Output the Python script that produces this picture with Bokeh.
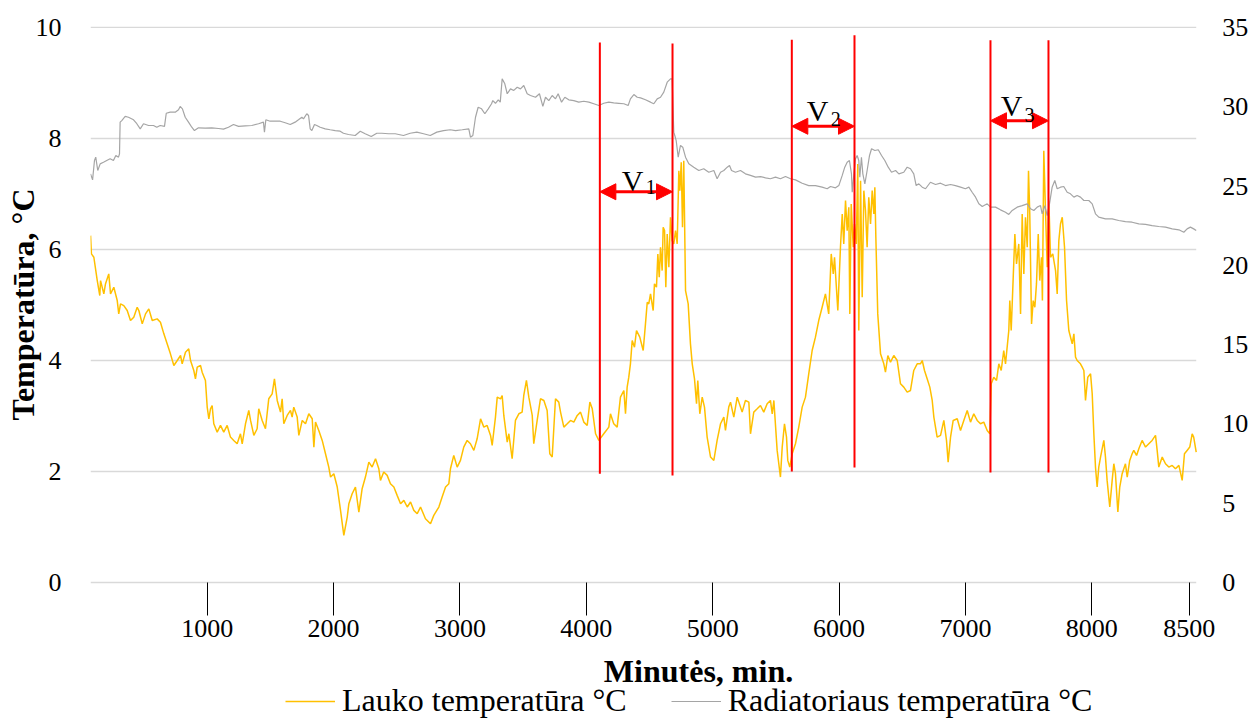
from bokeh.embed import file_html
from bokeh.models import (Arrow, FixedTicker, Label, Legend, LegendItem,
                          LinearAxis, NormalHead, Range1d, Title)
from bokeh.plotting import figure
from bokeh.resources import INLINE

# ---------------------------------------------------------------- data
# outdoor temperature (left axis, °C) against time in minutes
lauko_min = [
    77, 84, 103, 130, 150, 156, 182, 195, 221, 235,
    261, 288, 300, 314, 340, 367, 393, 419, 446, 459,
    486, 512, 538, 565, 604, 630, 657, 683, 709, 736,
    763, 789, 802, 828, 854, 868, 894, 907, 921, 947,
    960, 986, 1000, 1013, 1026, 1039, 1052, 1079, 1105, 1131,
    1158, 1184, 1210, 1237, 1263, 1277, 1303, 1329, 1343, 1369,
    1395, 1408, 1435, 1461, 1487, 1514, 1532, 1554, 1580, 1593,
    1606, 1633, 1659, 1672, 1685, 1712, 1725, 1752, 1778, 1804,
    1831, 1844, 1857, 1883, 1910, 1936, 1962, 1976, 2002, 2029,
    2055, 2081, 2108, 2121, 2147, 2173, 2200, 2226, 2252, 2279,
    2305, 2332, 2358, 2371, 2397, 2424, 2450, 2477, 2503, 2530,
    2556, 2583, 2609, 2635, 2662, 2688, 2727, 2767, 2793, 2833,
    2859, 2886, 2912, 2925, 2951, 2978, 3004, 3030, 3057, 3083,
    3110, 3136, 3163, 3189, 3215, 3242, 3255, 3281, 3295, 3321,
    3334, 3347, 3374, 3387, 3413, 3439, 3466, 3492, 3505, 3526,
    3545, 3572, 3584, 3611, 3637, 3664, 3690, 3711, 3730, 3756,
    3782, 3796, 3822, 3849, 3875, 3901, 3928, 3954, 3980, 4007,
    4028, 4047, 4073, 4099, 4138, 4178, 4191, 4217, 4244, 4270,
    4297, 4310, 4323, 4336, 4349, 4363, 4381, 4397, 4423, 4450,
    4468, 4482, 4494, 4508, 4529, 4539, 4555, 4566, 4577, 4587,
    4600, 4608, 4619, 4629, 4640, 4653, 4666, 4679, 4692, 4706,
    4719, 4732, 4740, 4751, 4761, 4771, 4785, 4806, 4824, 4838,
    4856, 4872, 4882, 4898, 4917, 4935, 4956, 4983, 5009, 5035,
    5062, 5088, 5101, 5127, 5141, 5167, 5194, 5220, 5233, 5259,
    5286, 5299, 5325, 5352, 5378, 5404, 5431, 5457, 5471, 5484,
    5510, 5523, 5536, 5550, 5568, 5584, 5594, 5610, 5629, 5655,
    5681, 5708, 5734, 5760, 5787, 5813, 5839, 5866, 5892, 5918,
    5938, 5954, 5964, 5990, 6011, 6025, 6037, 6051, 6064, 6077,
    6085, 6096, 6112, 6122, 6136, 6148, 6156, 6170, 6183, 6196,
    6209, 6222, 6235, 6249, 6262, 6275, 6283, 6291, 6306, 6328,
    6354, 6367, 6386, 6407, 6433, 6460, 6486, 6512, 6539, 6565,
    6591, 6618, 6644, 6658, 6676, 6697, 6718, 6737, 6750, 6776,
    6803, 6829, 6850, 6863, 6882, 6903, 6935, 6961, 6987, 7014,
    7040, 7066, 7093, 7119, 7145, 7172, 7193, 7204, 7224, 7246,
    7264, 7283, 7303, 7317, 7343, 7351, 7362, 7378, 7391, 7404,
    7422, 7436, 7449, 7462, 7475, 7489, 7499, 7509, 7523, 7536,
    7549, 7562, 7576, 7588, 7602, 7609, 7620, 7634, 7647, 7660,
    7673, 7691, 7713, 7726, 7739, 7752, 7766, 7784, 7800, 7818,
    7845, 7858, 7871, 7884, 7910, 7924, 7937, 7950, 7968, 7990,
    8003, 8016, 8029, 8042, 8055, 8069, 8095, 8108, 8121, 8142,
    8161, 8174, 8187, 8206, 8221, 8240, 8266, 8280, 8300, 8319,
    8332, 8354, 8372, 8398, 8425, 8451, 8477, 8504, 8517, 8530,
    8557, 8583, 8609, 8636, 8662, 8689, 8715, 8733, 8754, 8775,
    8794, 8806, 8826,
]
lauko_temp = [
    6.25, 5.92, 5.86, 5.44, 5.17, 5.44, 5.20, 5.38, 5.56, 5.20,
    5.32, 5.08, 4.84, 5.02, 4.99, 4.90, 4.72, 4.78, 4.96, 4.90,
    4.66, 4.84, 4.93, 4.72, 4.75, 4.69, 4.48, 4.30, 4.12, 3.91,
    4.00, 4.09, 3.94, 4.15, 4.21, 4.00, 3.82, 3.67, 3.88, 3.91,
    3.79, 3.64, 3.16, 2.95, 3.13, 3.19, 2.86, 2.71, 2.83, 2.71,
    2.83, 2.62, 2.56, 2.50, 2.68, 2.50, 2.86, 3.10, 2.92, 2.65,
    2.77, 3.13, 2.92, 2.77, 3.31, 3.40, 3.67, 3.28, 3.07, 3.31,
    2.86, 3.01, 3.10, 2.98, 3.16, 2.98, 2.65, 2.92, 2.86, 3.04,
    2.95, 2.44, 2.89, 2.74, 2.56, 2.32, 2.08, 1.90, 1.96, 1.72,
    1.30, 0.85, 1.18, 1.42, 1.60, 1.72, 1.27, 1.69, 1.90, 2.17,
    2.08, 2.23, 2.05, 1.84, 1.99, 1.93, 1.78, 1.72, 1.57, 1.42,
    1.48, 1.36, 1.45, 1.30, 1.24, 1.36, 1.15, 1.06, 1.21, 1.36,
    1.54, 1.72, 1.78, 2.05, 2.29, 2.08, 2.20, 2.44, 2.56, 2.50,
    2.38, 2.59, 2.95, 2.80, 2.83, 2.65, 2.47, 2.98, 3.34, 3.31,
    3.37, 3.01, 2.53, 2.68, 2.23, 2.92, 3.04, 3.07, 3.37, 3.64,
    3.34, 3.01, 2.50, 2.92, 3.31, 3.28, 3.10, 2.32, 2.26, 3.31,
    3.25, 3.07, 2.80, 2.86, 2.92, 2.89, 3.01, 3.07, 2.89, 2.83,
    3.25, 3.13, 2.68, 2.56, 2.68, 2.80, 3.04, 2.86, 2.80, 3.34,
    3.46, 3.04, 3.52, 3.70, 3.94, 4.36, 4.24, 4.54, 4.42, 4.18,
    4.66, 5.05, 5.02, 5.20, 4.90, 5.38, 5.32, 5.92, 5.50, 6.04,
    5.62, 6.40, 6.34, 5.32, 6.28, 5.68, 6.58, 6.16, 6.10, 6.34,
    6.10, 7.42, 7.06, 7.57, 6.40, 7.60, 5.26, 5.02, 4.30, 3.94,
    3.67, 3.22, 3.64, 3.04, 3.34, 3.16, 2.62, 2.26, 2.20, 2.56,
    2.86, 2.98, 2.74, 3.16, 3.25, 2.98, 3.34, 3.16, 3.07, 3.28,
    3.25, 2.68, 3.07, 3.13, 3.19, 3.07, 3.22, 3.28, 3.04, 3.28,
    2.38, 2.14, 1.90, 2.44, 2.86, 2.62, 2.20, 2.08, 2.32, 2.50,
    2.80, 3.16, 3.34, 3.76, 4.18, 4.42, 4.72, 4.96, 5.20, 4.84,
    5.92, 5.56, 5.86, 4.90, 6.04, 6.64, 6.10, 6.88, 6.34, 6.76,
    4.84, 6.82, 6.04, 6.46, 6.10, 7.54, 4.54, 7.24, 5.14, 7.06,
    6.70, 6.04, 6.94, 6.46, 7.06, 6.64, 7.12, 6.22, 4.84, 4.12,
    3.94, 3.79, 4.09, 3.97, 4.09, 4.00, 3.58, 3.52, 3.43, 3.46,
    3.82, 3.94, 3.94, 4.00, 3.82, 3.67, 3.52, 3.28, 2.98, 2.62,
    2.65, 2.92, 2.56, 2.17, 2.62, 2.92, 2.95, 2.74, 2.92, 3.10,
    2.89, 3.04, 2.92, 2.86, 2.89, 2.74, 2.68, 3.58, 3.70, 3.64,
    3.94, 3.82, 4.18, 3.94, 4.54, 5.08, 4.54, 5.50, 6.28, 5.74,
    6.10, 4.84, 6.64, 5.56, 6.58, 6.04, 7.42, 6.64, 4.66, 5.08,
    4.96, 5.38, 6.28, 5.44, 5.86, 5.08, 7.78, 6.64, 5.68, 6.88,
    5.86, 5.92, 5.62, 5.20, 6.16, 6.46, 6.58, 6.04, 5.08, 4.54,
    4.30, 4.48, 4.06, 4.00, 3.94, 3.88, 3.82, 3.28, 3.70, 3.76,
    3.40, 2.68, 2.08, 1.72, 2.08, 2.26, 2.56, 2.26, 1.84, 1.36,
    1.84, 2.14, 1.96, 1.27, 1.72, 1.96, 2.14, 1.90, 2.20, 2.32,
    2.38, 2.29, 2.41, 2.56, 2.44, 2.50, 2.56, 2.65, 2.38, 2.08,
    2.26, 2.14, 2.08, 2.11, 2.05, 2.11, 1.84, 2.32, 2.38, 2.44,
    2.68, 2.62, 2.35,
]

# radiator temperature (right axis, °C)
rad_min = [
    77, 93, 108, 118, 134, 153, 179, 205, 232, 258,
    277, 298, 306, 311, 324, 351, 377, 417, 443, 470,
    496, 536, 575, 601, 628, 662, 676, 707, 747, 773,
    786, 804, 826, 852, 878, 899, 931, 984, 1036, 1089,
    1129, 1168, 1208, 1248, 1301, 1353, 1406, 1445, 1453, 1464,
    1498, 1538, 1578, 1617, 1657, 1696, 1722, 1749, 1762, 1788,
    1802, 1815, 1828, 1849, 1867, 1894, 1934, 1973, 2013, 2052,
    2078, 2118, 2171, 2211, 2250, 2298, 2342, 2382, 2435, 2488,
    2553, 2606, 2659, 2712, 2765, 2817, 2870, 2923, 2965, 3018,
    3070, 3083, 3102, 3123, 3144, 3171, 3197, 3224, 3250, 3260,
    3281, 3303, 3319, 3334, 3355, 3374, 3400, 3426, 3453, 3479,
    3505, 3532, 3558, 3598, 3629, 3656, 3677, 3703, 3730, 3756,
    3777, 3804, 3830, 3861, 3901, 3940, 3980, 4020, 4059, 4099,
    4138, 4178, 4217, 4257, 4297, 4331, 4349, 4376, 4403, 4429,
    4468, 4508, 4534, 4561, 4587, 4613, 4640, 4666, 4679, 4692,
    4700, 4711, 4727, 4745, 4763, 4785, 4811, 4850, 4890, 4929,
    4969, 5009, 5035, 5062, 5088, 5115, 5133, 5149, 5180, 5220,
    5259, 5299, 5339, 5378, 5418, 5457, 5497, 5536, 5576, 5616,
    5655, 5708, 5760, 5813, 5866, 5906, 5932, 5972, 5998, 6025,
    6045, 6064, 6082, 6098, 6104, 6117, 6130, 6143, 6156, 6164,
    6177, 6188, 6204, 6222, 6241, 6257, 6283, 6310, 6336, 6362,
    6389, 6415, 6447, 6473, 6512, 6539, 6565, 6591, 6610, 6631,
    6658, 6684, 6723, 6763, 6803, 6842, 6882, 6921, 6961, 7000,
    7027, 7053, 7080, 7106, 7133, 7172, 7198, 7238, 7277, 7317,
    7343, 7370, 7409, 7449, 7489, 7515, 7541, 7568, 7594, 7607,
    7628, 7647, 7665, 7686, 7707, 7726, 7752, 7778, 7805, 7831,
    7858, 7884, 7910, 7937, 7976, 8003, 8029, 8055, 8108, 8161,
    8213, 8266, 8319, 8372, 8425, 8477, 8530, 8583, 8636, 8689,
    8728, 8754, 8780, 8806, 8826,
]
rad_temp = [
    25.77, 25.39, 26.61, 26.82, 25.98, 26.40, 26.50, 26.61, 26.72, 26.61,
    26.93, 26.82, 27.03, 29.03, 29.13, 29.39, 29.34, 29.18, 28.93, 28.61,
    28.93, 28.82, 28.82, 28.71, 28.82, 28.76, 29.59, 29.66, 29.66, 29.81,
    30.02, 29.87, 29.34, 29.03, 28.71, 28.50, 28.67, 28.65, 28.67, 28.63,
    28.59, 28.71, 28.88, 28.76, 28.80, 28.82, 28.93, 29.03, 28.40, 29.18,
    29.09, 29.09, 29.09, 28.99, 28.88, 29.03, 29.18, 29.34, 29.24, 29.56,
    29.45, 28.61, 28.50, 28.88, 28.82, 28.71, 28.61, 28.55, 28.50, 28.46,
    28.33, 28.25, 28.19, 28.46, 28.30, 28.12, 28.33, 28.33, 28.30, 28.30,
    28.19, 28.33, 28.40, 28.30, 28.19, 28.40, 28.50, 28.55, 28.50, 28.55,
    28.61, 28.08, 28.19, 29.34, 29.97, 29.87, 29.56, 29.87, 30.19, 30.39,
    30.22, 30.44, 30.29, 31.76, 31.45, 30.82, 31.13, 31.03, 31.23, 31.13,
    31.34, 30.82, 30.71, 30.60, 30.82, 30.02, 30.60, 30.39, 30.71, 30.50,
    30.82, 30.29, 30.60, 30.44, 30.39, 30.29, 30.35, 30.29, 30.19, 30.08,
    30.22, 30.29, 30.25, 30.22, 30.19, 30.08, 30.50, 30.77, 30.60, 30.56,
    30.44, 30.29, 30.19, 30.50, 30.60, 30.92, 31.55, 31.76, 31.76, 28.40,
    28.19, 27.87, 26.82, 27.56, 27.45, 26.82, 26.40, 26.19, 25.98, 26.09,
    25.87, 25.98, 25.46, 25.87, 25.98, 26.19, 26.30, 25.98, 25.87, 25.98,
    25.77, 25.67, 25.56, 25.60, 25.52, 25.46, 25.56, 25.46, 25.60, 25.46,
    25.39, 25.18, 25.03, 25.03, 24.93, 24.83, 24.97, 24.89, 25.03, 25.67,
    26.19, 26.50, 26.61, 25.77, 24.61, 25.77, 26.72, 26.93, 26.61, 25.56,
    26.82, 25.77, 25.14, 25.98, 26.93, 27.35, 27.24, 27.29, 26.93, 26.61,
    26.19, 25.87, 25.98, 25.77, 25.87, 26.19, 26.09, 25.77, 25.03, 25.14,
    24.93, 24.83, 25.24, 25.10, 25.18, 25.03, 25.10, 25.03, 24.93, 24.83,
    24.93, 24.61, 24.30, 23.88, 23.71, 23.88, 23.67, 23.67, 23.50, 23.35,
    23.21, 23.46, 23.67, 23.77, 23.88, 23.57, 23.46, 23.67, 23.77, 23.25,
    23.77, 23.14, 23.88, 24.93, 25.35, 24.83, 24.93, 24.97, 24.61, 24.51,
    24.30, 24.40, 24.30, 24.09, 24.09, 23.88, 23.25, 23.04, 22.93, 22.93,
    22.83, 22.76, 22.72, 22.62, 22.58, 22.51, 22.45, 22.41, 22.30, 22.24,
    22.09, 22.30, 22.41, 22.30, 22.20,
]

# ventilation intervals V1..V3: start / end minute
interval_names = ["1", "2", "3"]
interval_start = [4107, 5626, 7198]
interval_end = [4682, 6122, 7657]

# axis ticks
x_tick_values = [1000, 2000, 3000, 4000, 5000, 6000, 7000, 8000, 8770]
x_tick_labels = ["1000", "2000", "3000", "4000", "5000", "6000", "7000", "8000", "8500"]
left_ticks = [0, 2, 4, 6, 8, 10]
right_ticks = [0, 5, 10, 15, 20, 25, 30, 35]

# ---------------------------------------------------------------- styles
FONT = "Liberation Serif"
YELLOW = "#FFC000"
GREY = "#A5A5A5"
GRID = "#D9D9D9"
RED = "#FF0000"

# plotted time span; the frame runs on to the right page edge so the
# secondary axis labels and the last x label sit inside it
X_START, X_END = 76.5, 8826
X_FRAME_END = 9255.6
# the frame also spans the full page height; the space under 0 holds
# the x tick labels, the x title and the legend
Y_LOW, Y_HIGH = -2.468, 10.486   # left-axis units
RAD_SCALE = 3.5                  # right axis = 3.5 x left axis

# vertical extent of each boundary line (left-axis units), start/end per interval
line_bottom = [(1.96, 1.93), (2.00, 2.07), (1.98, 1.98)]
line_top = [(9.73, 9.71), (9.78, 9.86), (9.77, 9.77)]
arrow_level = [7.04, 8.22, 8.32]
# "V" letter anchor (x, baseline) and subscript anchor
v_pos = [(4280, 7.24), (5745, 8.50), (7280, 8.59)]
sub_pos = [(4470, 7.12), (5935, 8.36), (7467, 8.42)]

# ---------------------------------------------------------------- figure
p = figure(width=1250, height=719, output_backend="svg", toolbar_location=None,
           x_range=Range1d(X_START, X_FRAME_END), y_range=Range1d(Y_LOW, Y_HIGH),
           min_border_left=90, min_border_right=0,
           min_border_top=0, min_border_bottom=0)
p.outline_line_color = None
p.background_fill_color = "white"
p.border_fill_color = "white"
p.extra_y_ranges = {"rad": Range1d(Y_LOW * RAD_SCALE, Y_HIGH * RAD_SCALE)}

# horizontal grid over the plotted span only
p.xgrid.visible = False
p.ygrid.visible = False
p.segment(x0=[X_START] * len(left_ticks), x1=[X_END] * len(left_ticks),
          y0=left_ticks, y1=left_ticks, line_color=GRID, line_width=1.3)

# x axis drawn along y = 0
xa = p.xaxis[0]
xa.fixed_location = 0
xa.ticker = FixedTicker(ticks=x_tick_values)
xa.major_label_overrides = dict(zip(x_tick_values, x_tick_labels))
xa.axis_line_color = None
xa.major_tick_out = 33
xa.major_tick_in = 0
xa.major_tick_line_color = "black"
xa.minor_tick_line_color = None
xa.major_label_standoff = 4
xa.major_label_text_font = FONT
xa.major_label_text_font_size = "26px"
xa.major_label_text_color = "black"

# left axis
ya = p.yaxis[0]
ya.ticker = FixedTicker(ticks=left_ticks)
ya.axis_line_color = None
ya.major_tick_line_color = None
ya.minor_tick_line_color = None
ya.major_label_standoff = 23
ya.major_label_text_font = FONT
ya.major_label_text_font_size = "26px"
ya.major_label_text_color = "black"

# left axis title, placed along the 0..10 span
p.add_layout(Title(text="Temperatūra, °C", align="left", offset=299, standoff=-16,
                   text_font=FONT, text_font_size="32px", text_font_style="bold",
                   text_color="black"), "left")

# right axis, at the end of the plotted span
ra = LinearAxis(y_range_name="rad", ticker=FixedTicker(ticks=right_ticks))
ra.fixed_location = X_END
ra.axis_line_color = None
ra.major_tick_line_color = None
ra.minor_tick_line_color = None
ra.major_label_standoff = 20
ra.major_label_text_font = FONT
ra.major_label_text_font_size = "26px"
ra.major_label_text_color = "black"
p.add_layout(ra, "right")

# series
r_lauko = p.line(lauko_min, lauko_temp, line_color=YELLOW, line_width=1.5)
r_rad = p.line(rad_min, rad_temp, y_range_name="rad", line_color=GREY, line_width=1.2)

# interval boundaries, arrows and labels
for i, name in enumerate(interval_names):
    xs = [interval_start[i], interval_end[i]]
    p.segment(x0=xs, y0=list(line_bottom[i]), x1=xs, y1=list(line_top[i]),
              line_color=RED, line_width=2)
    p.add_layout(Arrow(x_start=interval_start[i], y_start=arrow_level[i],
                       x_end=interval_end[i], y_end=arrow_level[i],
                       line_color=RED, line_width=3,
                       start=NormalHead(size=16, fill_color=RED, line_color=RED),
                       end=NormalHead(size=16, fill_color=RED, line_color=RED)))
    p.add_layout(Label(x=v_pos[i][0], y=v_pos[i][1], text="V",
                       text_font=FONT, text_font_size="30px", text_color="black",
                       text_align="left", text_baseline="alphabetic"))
    p.add_layout(Label(x=sub_pos[i][0], y=sub_pos[i][1], text=name,
                       text_font=FONT, text_font_size="20px", text_color="black",
                       text_align="left", text_baseline="alphabetic"))

# x-axis title
p.add_layout(Label(x=608, y=49, x_units="screen", y_units="screen",
                   text="Minutės, min.", text_font=FONT, text_font_size="32px",
                   text_font_style="bold", text_color="black",
                   text_align="center", text_baseline="alphabetic"))

# legend at the bottom
legend = Legend(items=[LegendItem(label="Lauko temperatūra °C", renderers=[r_lauko]),
                       LegendItem(label="Radiatoriaus temperatūra °C", renderers=[r_rad])],
                orientation="horizontal", location=(195, 0),
                label_text_font=FONT, label_text_font_size="32px",
                label_text_color="black",
                glyph_width=50, glyph_height=30, label_height=30,
                label_standoff=7, spacing=44, padding=0, margin=0,
                border_line_color=None, background_fill_alpha=0)
p.add_layout(legend)

open("out.html", "w").write(file_html(p, INLINE))
